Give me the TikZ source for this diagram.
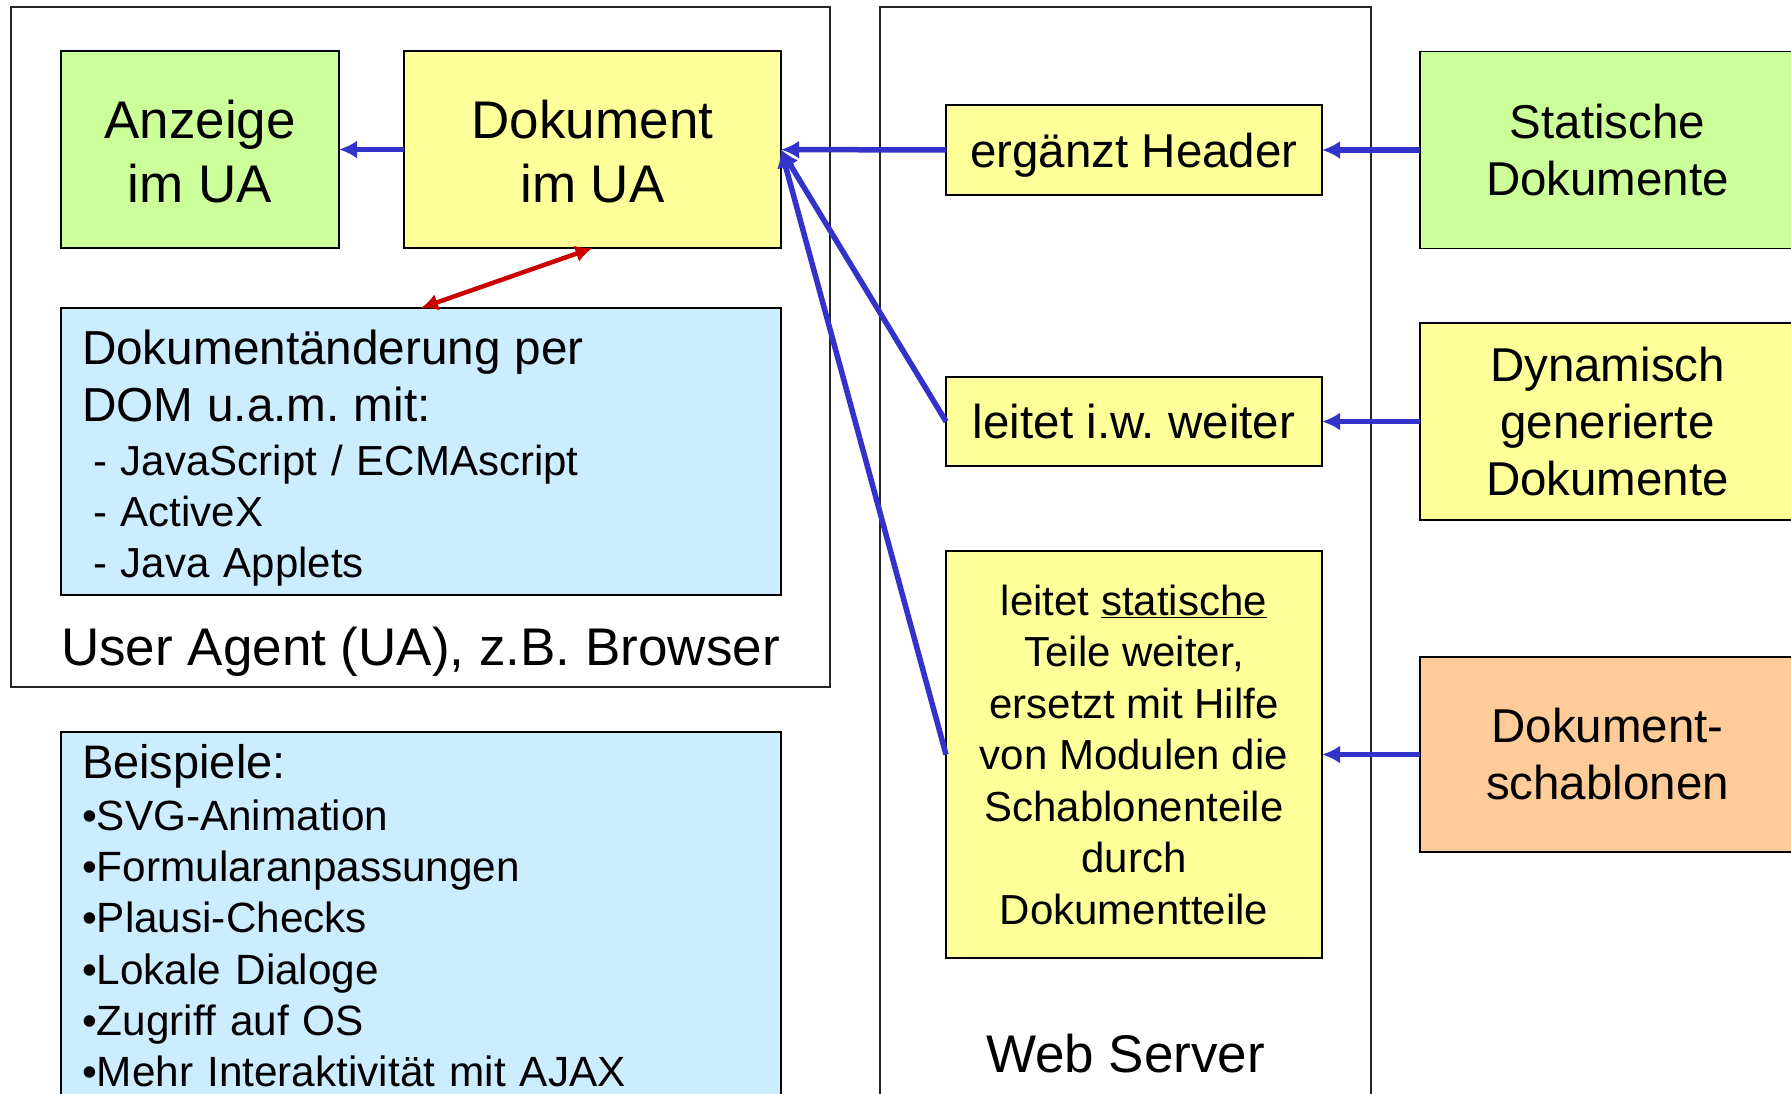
\documentclass[tikz,border=0pt]{standalone}
\usepackage{fontspec}
\setmainfont{Liberation Sans}
\usepackage{tikz}
\usetikzlibrary{positioning, arrows.meta}
\setlength{\parindent}{0pt}
\frenchspacing

\definecolor{boxgreen}{HTML}{CCFF99}
\definecolor{boxyellow}{HTML}{FFFF99}
\definecolor{boxblue}{HTML}{CCECFF}
\definecolor{boxorange}{HTML}{FFCC99}
\definecolor{arrowblue}{HTML}{3333CC}
\definecolor{arrowred}{HTML}{CC0000}

\newcommand{\fsz}[2]{\fontsize{#1pt}{#2pt}\selectfont}

\tikzstyle{plainbox} = [rectangle, draw=black, line width=1.5pt, align=center, inner sep=0pt, outer sep=0pt]
\tikzstyle{greenbox} = [plainbox, fill=boxgreen]
\tikzstyle{yellowbox} = [plainbox, fill=boxyellow]
\tikzstyle{orangebox} = [plainbox, fill=boxorange]
\tikzstyle{bluebox} = [plainbox, fill=boxblue, align=left, inner xsep=21pt, text width=678pt]
\tikzstyle{framebox} = [rectangle, draw=black!85, line width=1.5pt, inner sep=0pt, outer sep=0pt]
\tikzstyle{arrow} = [line width=5.5pt, color=arrowblue, -{Latex[length=18pt,width=18pt]}]
\tikzstyle{redarrow} = [line width=4.5pt, color=arrowred, {Latex[length=17pt,width=17pt]}-{Latex[length=17pt,width=17pt]}]

\begin{document}
\begin{tikzpicture}[x=1pt, y=-1pt]
      \useasboundingbox (0,0) rectangle (1791,1093);

      % Rahmen
      \node (uaframe) [framebox, anchor=north west, minimum width=819pt, minimum height=680pt] at (11,7) {};
      \node (wsframe) [framebox, anchor=north west, minimum width=491pt, minimum height=1110pt] at (880,7) {};

      % User Agent
      \node (dokument) [yellowbox, minimum width=377pt, minimum height=197pt, font=\fsz{53}{64}] at (592.5,149.5) {\rule{0pt}{43pt}Dokument\\im UA};
      \node (anzeige) [greenbox, minimum width=278pt, minimum height=197pt, font=\fsz{53}{64}, left=65pt of dokument] {\rule{0pt}{43pt}Anzeige\\im UA};
      \node (dom) [bluebox, minimum height=287pt, font=\fsz{42}{51}, below=60pt of dokument.south east, anchor=north east] {{\fsz{47.7}{57}\rule{0pt}{48pt}Dokumentänderung per\\DOM u.a.m. mit:\par}\vspace{3pt}
        \hspace*{11pt}- JavaScript / ECMAscript\\
        \hspace*{11pt}- ActiveX\\
        \hspace*{11pt}- Java Applets};
      \node (uatitle) [anchor=base, font=\fsz{53}{64}] at ([yshift=22pt]uaframe.south) {User Agent (UA), z.B. Browser};
      \node (beispiele) [bluebox, minimum height=368pt, font=\fsz{42.3}{51.3}, below=137pt of dom] {{\fsz{47}{57}Beispiele:\par}
        •SVG-Animation\\
        •Formularanpassungen\\
        •Plausi-Checks\\
        •Lokale Dialoge\\
        •Zugriff auf OS\\
        •Mehr Interaktivität mit AJAX};

      % Web Server
      \node (ergaenzt) [yellowbox, minimum width=376pt, minimum height=90pt, text depth=0pt, font=\fsz{47.5}{57}] at (1134,150) {ergänzt Header};
      \node (iwweiter) [yellowbox, minimum width=376pt, minimum height=89pt, font=\fsz{47.5}{57}, below=182pt of ergaenzt] {leitet i.w. weiter};
      \node (statisch) [yellowbox, minimum width=376pt, minimum height=407pt, font=\fsz{42}{51.5}, below=85pt of iwweiter] {leitet \underline{statische}\\Teile weiter,\\ersetzt mit Hilfe\\von Modulen die\\Schablonenteile\\durch\\Dokumentteile};
      \node (wstitle) [anchor=base, font=\fsz{53}{64}] at (1125.5,1072) {Web Server};

      % Dokumentquellen
      \node (statdok) [greenbox, minimum width=375pt, minimum height=197pt, font=\fsz{47.5}{57}, right=98pt of ergaenzt] {Statische\\Dokumente};
      \node (dyndok) [yellowbox, minimum width=375pt, minimum height=197pt, font=\fsz{47.5}{57}, right=98pt of iwweiter] {Dynamisch\\generierte\\Dokumente};
      \node (schablonen) [orangebox, minimum width=375pt, minimum height=195pt, font=\fsz{47.5}{57}, right=98pt of statisch] {Dokument-\\schablonen};

      \draw [arrow] (dokument) -- (anzeige);
      \draw [arrow] (ergaenzt) -- (dokument);
      \draw [arrow] (iwweiter.west) -- (dokument.east);
      \draw [arrow] (statisch.west) -- (dokument.east);
      \draw [arrow] (statdok) -- (ergaenzt);
      \draw [arrow] (dyndok) -- (iwweiter);
      \draw [arrow] (schablonen) -- (statisch);
      \draw [redarrow] (dokument.south) -- (dom.north);
\end{tikzpicture}
\end{document}
